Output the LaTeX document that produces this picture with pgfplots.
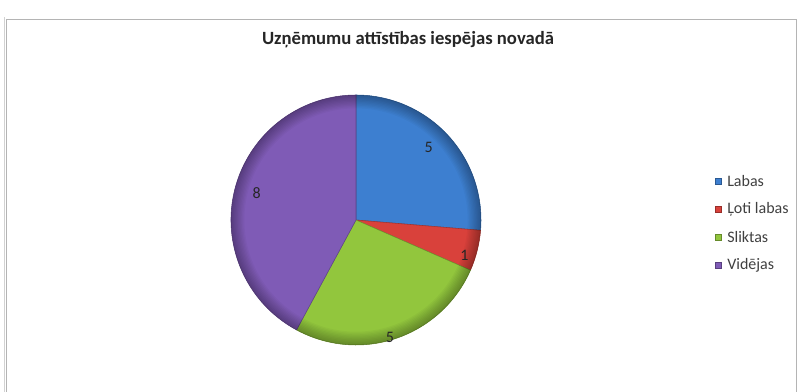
\documentclass[border=0pt]{standalone}
\usepackage{fontspec}
\setmainfont{Carlito}
\usepackage{pgfplots}
\usepackage{pgfplotstable}
\pgfplotsset{compat=1.18}

\definecolor{lblue}{HTML}{3D7FD0}
\definecolor{lred}{HTML}{D9413B}
\definecolor{lgreen}{HTML}{92C63D}
\definecolor{lpurple}{HTML}{7F5BB6}
\definecolor{frame}{HTML}{B4B4B4}

% value, colour, data label radius (px from centre) and angle offset (deg)
\pgfplotstableread[col sep=comma]{
label,value,col,lr,da
Labas,5,lblue,103,2.4
Ļoti labas,1,lred,114,-3.6
Sliktas,5,lgreen,122,-2.8
Vidējas,8,lpurple,103,-1.1
}\piedata

\begin{document}
\begin{tikzpicture}
\useasboundingbox (0,0) rectangle (599.25pt,294pt);
\begin{axis}[
    at={(0,0)}, anchor=south west,
    scale only axis,
    width=599.25pt, height=294pt,
    xmin=0, xmax=799, ymin=0, ymax=392,
    hide axis,
]
\pgfplotsextra{
  % chart frame
  \draw[frame!60, line width=0.6pt] (axis cs:4,0) -- (axis cs:4,375);
  \draw[frame, line width=0.7pt] (axis cs:6.5,0) -- (axis cs:6.5,373) -- (axis cs:796,373) -- (axis cs:796,0);
  \node[font=\fontsize{14}{16}\selectfont\bfseries, text=black!85, anchor=base]
    at (axis cs:408,347) {Uzņēmumu attīstības iespējas novadā};
  % total
  \gdef\pietot{0}
  \foreach \i in {0,...,3}{%
    \pgfplotstablegetelem{\i}{value}\of\piedata
    \pgfmathsetmacro\tmpsum{\pietot+\pgfplotsretval}%
    \global\let\pietot\tmpsum
  }
  \gdef\startang{90}
  \foreach \i in {0,...,3}{%
    \pgfplotstablegetelem{\i}{value}\of\piedata \let\wval\pgfplotsretval
    \pgfplotstablegetelem{\i}{col}\of\piedata \let\wcol\pgfplotsretval
    \pgfmathsetmacro\endang{\startang-360*\wval/\pietot}%
    \fill[fill=\wcol, draw=\wcol!75!black, line width=0.4pt]
      (axis cs:356,172) -- ([shift={(\startang:93.75pt)}]axis cs:356,172)
      arc[start angle=\startang, end angle=\endang, radius=93.75pt] -- cycle;
    \global\let\startang\endang
  }
  % rim shading
  \foreach \k in {1,...,10}{%
    \pgfmathsetmacro\rr{93.75-\k*0.5}%
    \draw[black, opacity=0.03, line width=\k pt] (axis cs:356,172) circle[radius=\rr pt];
  }
  % labels and legend
  \gdef\startang{90}
  \foreach \i in {0,...,3}{%
    \pgfplotstablegetelem{\i}{value}\of\piedata \let\wval\pgfplotsretval
    \pgfplotstablegetelem{\i}{col}\of\piedata \let\wcol\pgfplotsretval
    \pgfplotstablegetelem{\i}{lr}\of\piedata \let\wlr\pgfplotsretval
    \pgfplotstablegetelem{\i}{da}\of\piedata \let\wda\pgfplotsretval
    \pgfplotstablegetelem{\i}{label}\of\piedata \let\wlab\pgfplotsretval
    \pgfmathsetmacro\endang{\startang-360*\wval/\pietot}%
    \pgfmathsetmacro\midang{(\startang+\endang)/2+\wda}%
    \pgfmathsetmacro\lrpt{\wlr*0.75}%
    \node[font=\fontsize{12}{14}\selectfont, text=black!85]
      at ([shift={(\midang:\lrpt pt)}]axis cs:356,172) {\wval};
    \global\let\startang\endang
    \pgfmathsetmacro\ly{211-28*\i}%
    \fill[fill=\wcol, draw=\wcol!70!black, line width=0.3pt]
      (axis cs:715,{\ly-3}) rectangle (axis cs:721,{\ly+3});
    \node[font=\fontsize{12}{14}\selectfont, text=black!75, anchor=west, inner sep=0pt]
      at (axis cs:727,\ly) {\wlab};
  }
}
\end{axis}
\end{tikzpicture}
\end{document}
